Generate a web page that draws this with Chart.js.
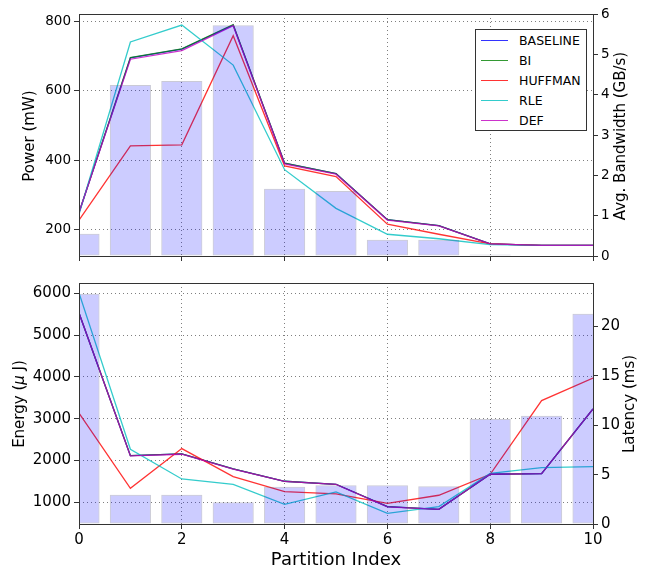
<!DOCTYPE html>
<html>
<head>
<meta charset="utf-8">
<script src="https://cdn.jsdelivr.net/npm/chart.js@4/dist/chart.umd.min.js"></script>
<style>
  body { margin: 0; background: #fff; }
  #wrap { position: relative; width: 648px; height: 569px; font-family: "DejaVu Sans", sans-serif; }
  canvas { position: absolute; left: 0; }
  .lab { position: absolute; white-space: nowrap; color: #000; }
  .rot { transform: translate(-50%, -50%) rotate(-90deg); }
  .hor { transform: translate(-50%, -50%); }
  #legend { position: absolute; left: 475px; top: 29px; width: 110px; height: 100px;
            border: 1px solid #333; background: #fff; font-size: 12.5px; }
  .row { position: absolute; left: 0; height: 20px; }
  .swatch { position: absolute; left: 5px; top: 9px; width: 27px; height: 0; border-top: 1.5px solid; }
  .name { position: absolute; left: 43px; top: 2px; }
</style>
</head>
<body>
<div id="wrap">
  <canvas id="chart1" width="648" height="270" style="top:0"></canvas>
  <canvas id="chart2" width="648" height="299" style="top:270px"></canvas>
  <div class="lab rot" style="left:29px;top:136px;font-size:15px">Power (mW)</div>
  <div class="lab rot" style="left:620px;top:136px;font-size:15px">Avg. Bandwidth (GB/s)</div>
  <div class="lab rot" style="left:19px;top:404px;font-size:15px">Energy (<i>μ</i> J)</div>
  <div class="lab rot" style="left:629px;top:404px;font-size:15px">Latency (ms)</div>
  <div class="lab hor" style="left:336px;top:558px;font-size:18px">Partition Index</div>
  <div id="legend"></div>
</div>
<script>
// partition index on the x axis
const partitions = [0, 1, 2, 3, 4, 5, 6, 7, 8, 9, 10];

// series names and colours
const seriesNames = ["BASELINE", "BI", "HUFFMAN", "RLE", "DEF"];
const seriesColors = ["rgba(0,0,255,0.8)", "rgba(0,128,0,0.8)", "rgba(255,0,0,0.8)", "rgba(0,191,191,0.8)", "rgba(191,0,191,0.8)"];

// top: power (mW)
const powerBaseline = [248, 696, 721, 791, 391, 361, 227, 210, 157, 153, 153];
const powerBI       = [248, 697, 722, 792, 391, 361, 227, 210, 157, 153, 153];
const powerHuffman  = [226, 441, 444, 760, 383, 352, 214, 185, 157, 153, 153];
const powerRLE      = [243, 742, 791, 675, 372, 260, 185, 172, 155, 153, 153];
const powerDEF      = [248, 692, 717, 789, 389, 359, 226, 209, 157, 153, 153];
// top: avg. bandwidth (GB/s)
const bandwidth = [0.55, 4.24, 4.34, 5.72, 1.67, 1.61, 0.40, 0.40, 0.04, 0, 0];

// bottom: energy (uJ)
const energyBaseline = [5530, 2117, 2158, 1798, 1503, 1431, 895, 832, 1671, 1686, 3236];
const energyBI       = [5530, 2117, 2158, 1798, 1503, 1431, 895, 832, 1671, 1686, 3236];
const energyHuffman  = [3133, 1336, 2285, 1614, 1254, 1199, 976, 1168, 1671, 3435, 3972];
const energyRLE      = [6010, 2270, 1558, 1431, 952, 1247, 736, 895, 1690, 1830, 1853];
const energyDEF      = [5530, 2110, 2150, 1795, 1500, 1428, 892, 830, 1671, 1686, 3236];
// bottom: latency (ms)
const latency = [23.3, 2.97, 2.97, 2.2, 3.78, 3.92, 3.92, 3.82, 10.64, 10.97, 21.28];

// tick labels
const xTicks = [0, 2, 4, 6, 8, 10];
const powerTicks = [200, 400, 600, 800];
const bandwidthTicks = [0, 1, 2, 3, 4, 5, 6];
const energyTicks = [1000, 2000, 3000, 4000, 5000, 6000];
const latencyTicks = [0, 5, 10, 15, 20];

const pts = (vals) => partitions.map((p, i) => ({ x: p, y: vals[i] }));
const setTicks = (arr) => (scale) => { scale.ticks = arr.map((v) => ({ value: v })); };
const plain = (v) => String(v);

// draw the box around the plot area
const framePlugin = {
    id: "frame",
    afterDatasetsDraw(chart) {
        const a = chart.chartArea, ctx = chart.ctx;
        ctx.save();
        ctx.strokeStyle = "#333";
        ctx.lineWidth = 1;
        ctx.strokeRect(Math.round(a.left) + 0.5, Math.round(a.top) + 0.5, Math.round(a.right - a.left), Math.round(a.bottom - a.top));
        ctx.restore();
    }
};

function lineSets(series) {
    return series.map((vals, i) => ({
        type: "line",
        label: seriesNames[i],
        data: pts(vals),
        yAxisID: "y",
        borderColor: seriesColors[i],
        borderWidth: 1.3,
        pointRadius: 0,
        fill: false,
        tension: 0,
        order: 5 - i,
    }));
}

function makeChart(id, lines, bars, o) {
    const tickFont = { family: "DejaVu Sans", size: o.fontSize };
    // grid line dash lives under border in v4
    const grid = { color: "rgba(0,0,0,0.5)", lineWidth: 1, offset: false, tickColor: "#333", tickLength: 5, tickBorderDash: [] };
    const dotted = { display: false, dash: [1, 3] };
    return new Chart(document.getElementById(id), {
        type: "line",
        data: {
            datasets: [
                ...lineSets(lines),
                {
                    type: "bar",
                    label: "bars",
                    data: pts(bars),
                    yAxisID: "y2",
                    backgroundColor: "rgba(0,0,255,0.2)",
                    borderColor: "rgba(80,80,120,0.3)",
                    borderWidth: 1,
                    borderSkipped: false,
                    barPercentage: 0.8,
                    categoryPercentage: 1,
                    order: 0,
                },
            ],
        },
        options: {
            responsive: false,
            animation: false,
            layout: { padding: { top: o.padTop, left: 0, right: 0, bottom: 0 } },
            plugins: { legend: { display: false }, tooltip: { enabled: false } },
            scales: {
                x: {
                    type: "linear", min: 0, max: 10, offset: false,
                    afterBuildTicks: setTicks(xTicks),
                    afterFit: (s) => { s.height = o.xHeight; },
                    border: dotted,
                    grid: grid,
                    ticks: { display: o.showX, font: tickFont, color: "#000", padding: 2, maxRotation: 0, callback: plain },
                },
                y: {
                    position: "left", min: o.yMin, max: o.yMax,
                    afterBuildTicks: setTicks(o.yTicks),
                    afterFit: (s) => { s.width = 79; },
                    border: dotted,
                    grid: grid,
                    ticks: { font: tickFont, color: "#000", padding: 3, callback: plain },
                },
                y2: {
                    position: "right", min: o.y2Min, max: o.y2Max,
                    afterBuildTicks: setTicks(o.y2Ticks),
                    afterFit: (s) => { s.width = 55; },
                    border: { display: false },
                    grid: { drawOnChartArea: false, tickColor: "#333", tickLength: 5 },
                    ticks: { font: tickFont, color: "#000", padding: 3, callback: plain },
                },
            },
        },
        plugins: [framePlugin],
    });
}

makeChart("chart1", [powerBaseline, powerBI, powerHuffman, powerRLE, powerDEF], bandwidth, {
    fontSize: 13.5, padTop: 14, xHeight: 14, showX: false,
    yMin: 122, yMax: 823, yTicks: powerTicks,
    y2Min: 0, y2Max: 6, y2Ticks: bandwidthTicks,
});

makeChart("chart2", [energyBaseline, energyBI, energyHuffman, energyRLE, energyDEF], latency, {
    fontSize: 15, padTop: 13, xHeight: 45, showX: true,
    yMin: 480, yMax: 6250, yTicks: energyTicks,
    y2Min: 0, y2Max: 24.4, y2Ticks: latencyTicks,
});

// legend box
const legend = document.getElementById("legend");
seriesNames.forEach((name, i) => {
    const row = document.createElement("div");
    row.className = "row";
    row.style.top = (1 + i * 20) + "px";
    row.innerHTML = '<div class="swatch" style="border-color:' + seriesColors[i] + '"></div><div class="name">' + name + "</div>";
    legend.appendChild(row);
});
</script>
</body>
</html>
